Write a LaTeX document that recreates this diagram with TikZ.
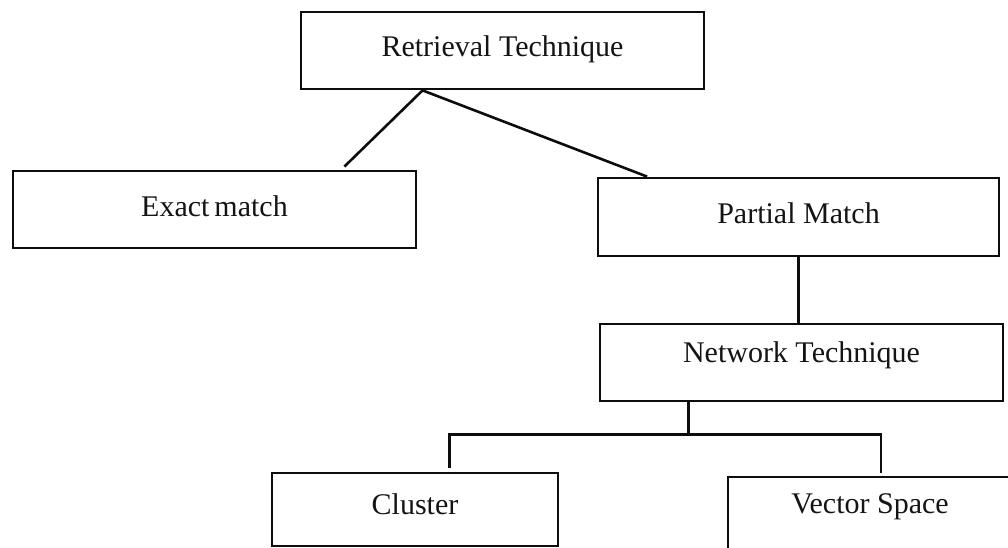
\documentclass[tikz,border=0pt]{standalone}
\usepackage{fontspec}
\setmainfont{Liberation Serif}
\usetikzlibrary{calc}
\begin{document}
\begin{tikzpicture}[x=1pt,y=-1pt,
  box/.style={draw=black!95, line width=2.8pt, rectangle, inner sep=0pt,
    font=\fontsize{30}{36}\selectfont, text height=20pt, text depth=7pt,
    text=black!92},
  wire/.style={draw=black!95, line width=2.6pt}]
  \useasboundingbox (0,0) rectangle (1008,548);
  \clip (0,0) rectangle (1008,548);

  % boxes of the hierarchy
  \node[box, minimum width=403pt, minimum height=77pt] (ret) at (502.5,50.5) {Retrieval Technique};
  \node[box, minimum width=403pt, minimum height=77pt] (exact) at (214.5,209.5) {Exact\hspace{5pt}match};
  \node[box, minimum width=401pt, minimum height=78pt] (partial) at (798.5,217) {Partial Match};
  \node[box, minimum width=403pt, minimum height=77pt, text depth=21pt] (net) at (801.5,362.5) {Network Technique};
  \node[box, minimum width=286pt, minimum height=73pt, text depth=10pt] (cluster) at (415,509.5) {Cluster};
  \node[box, minimum width=284pt, minimum height=75pt, text depth=22pt] (vector) at (870,514.5) {Vector Space};

  % attachment points of the connectors
  \coordinate (apex) at ($(ret.south west)!0.303!(ret.south east)$);
  \coordinate (exactTop) at ($(exact.north west)!0.82!(exact.north east)+(0,-3)$);
  \coordinate (partialTop) at ($(partial.north west)!0.125!(partial.north east)$);
  \coordinate (netStem) at ($(net.south west)!0.221!(net.south east)$);
  \coordinate (bar) at ($(netStem)+(0,32)$);
  \coordinate (clusterTop) at ($(cluster.north west)!0.619!(cluster.north east)+(0,-4)$);
  \coordinate (vectorTop) at ($(vector.north west)!0.538!(vector.north east)+(0,-3)$);

  % connectors
  \draw[wire] (exactTop) -- (apex) -- (partialTop);
  \draw[wire] (partial.south) -- (partial.south |- net.north);
  \draw[wire] (netStem) -- (bar);
  \draw[wire] (clusterTop) -- (clusterTop |- bar) -- (vectorTop |- bar) -- (vectorTop);
\end{tikzpicture}
\end{document}
